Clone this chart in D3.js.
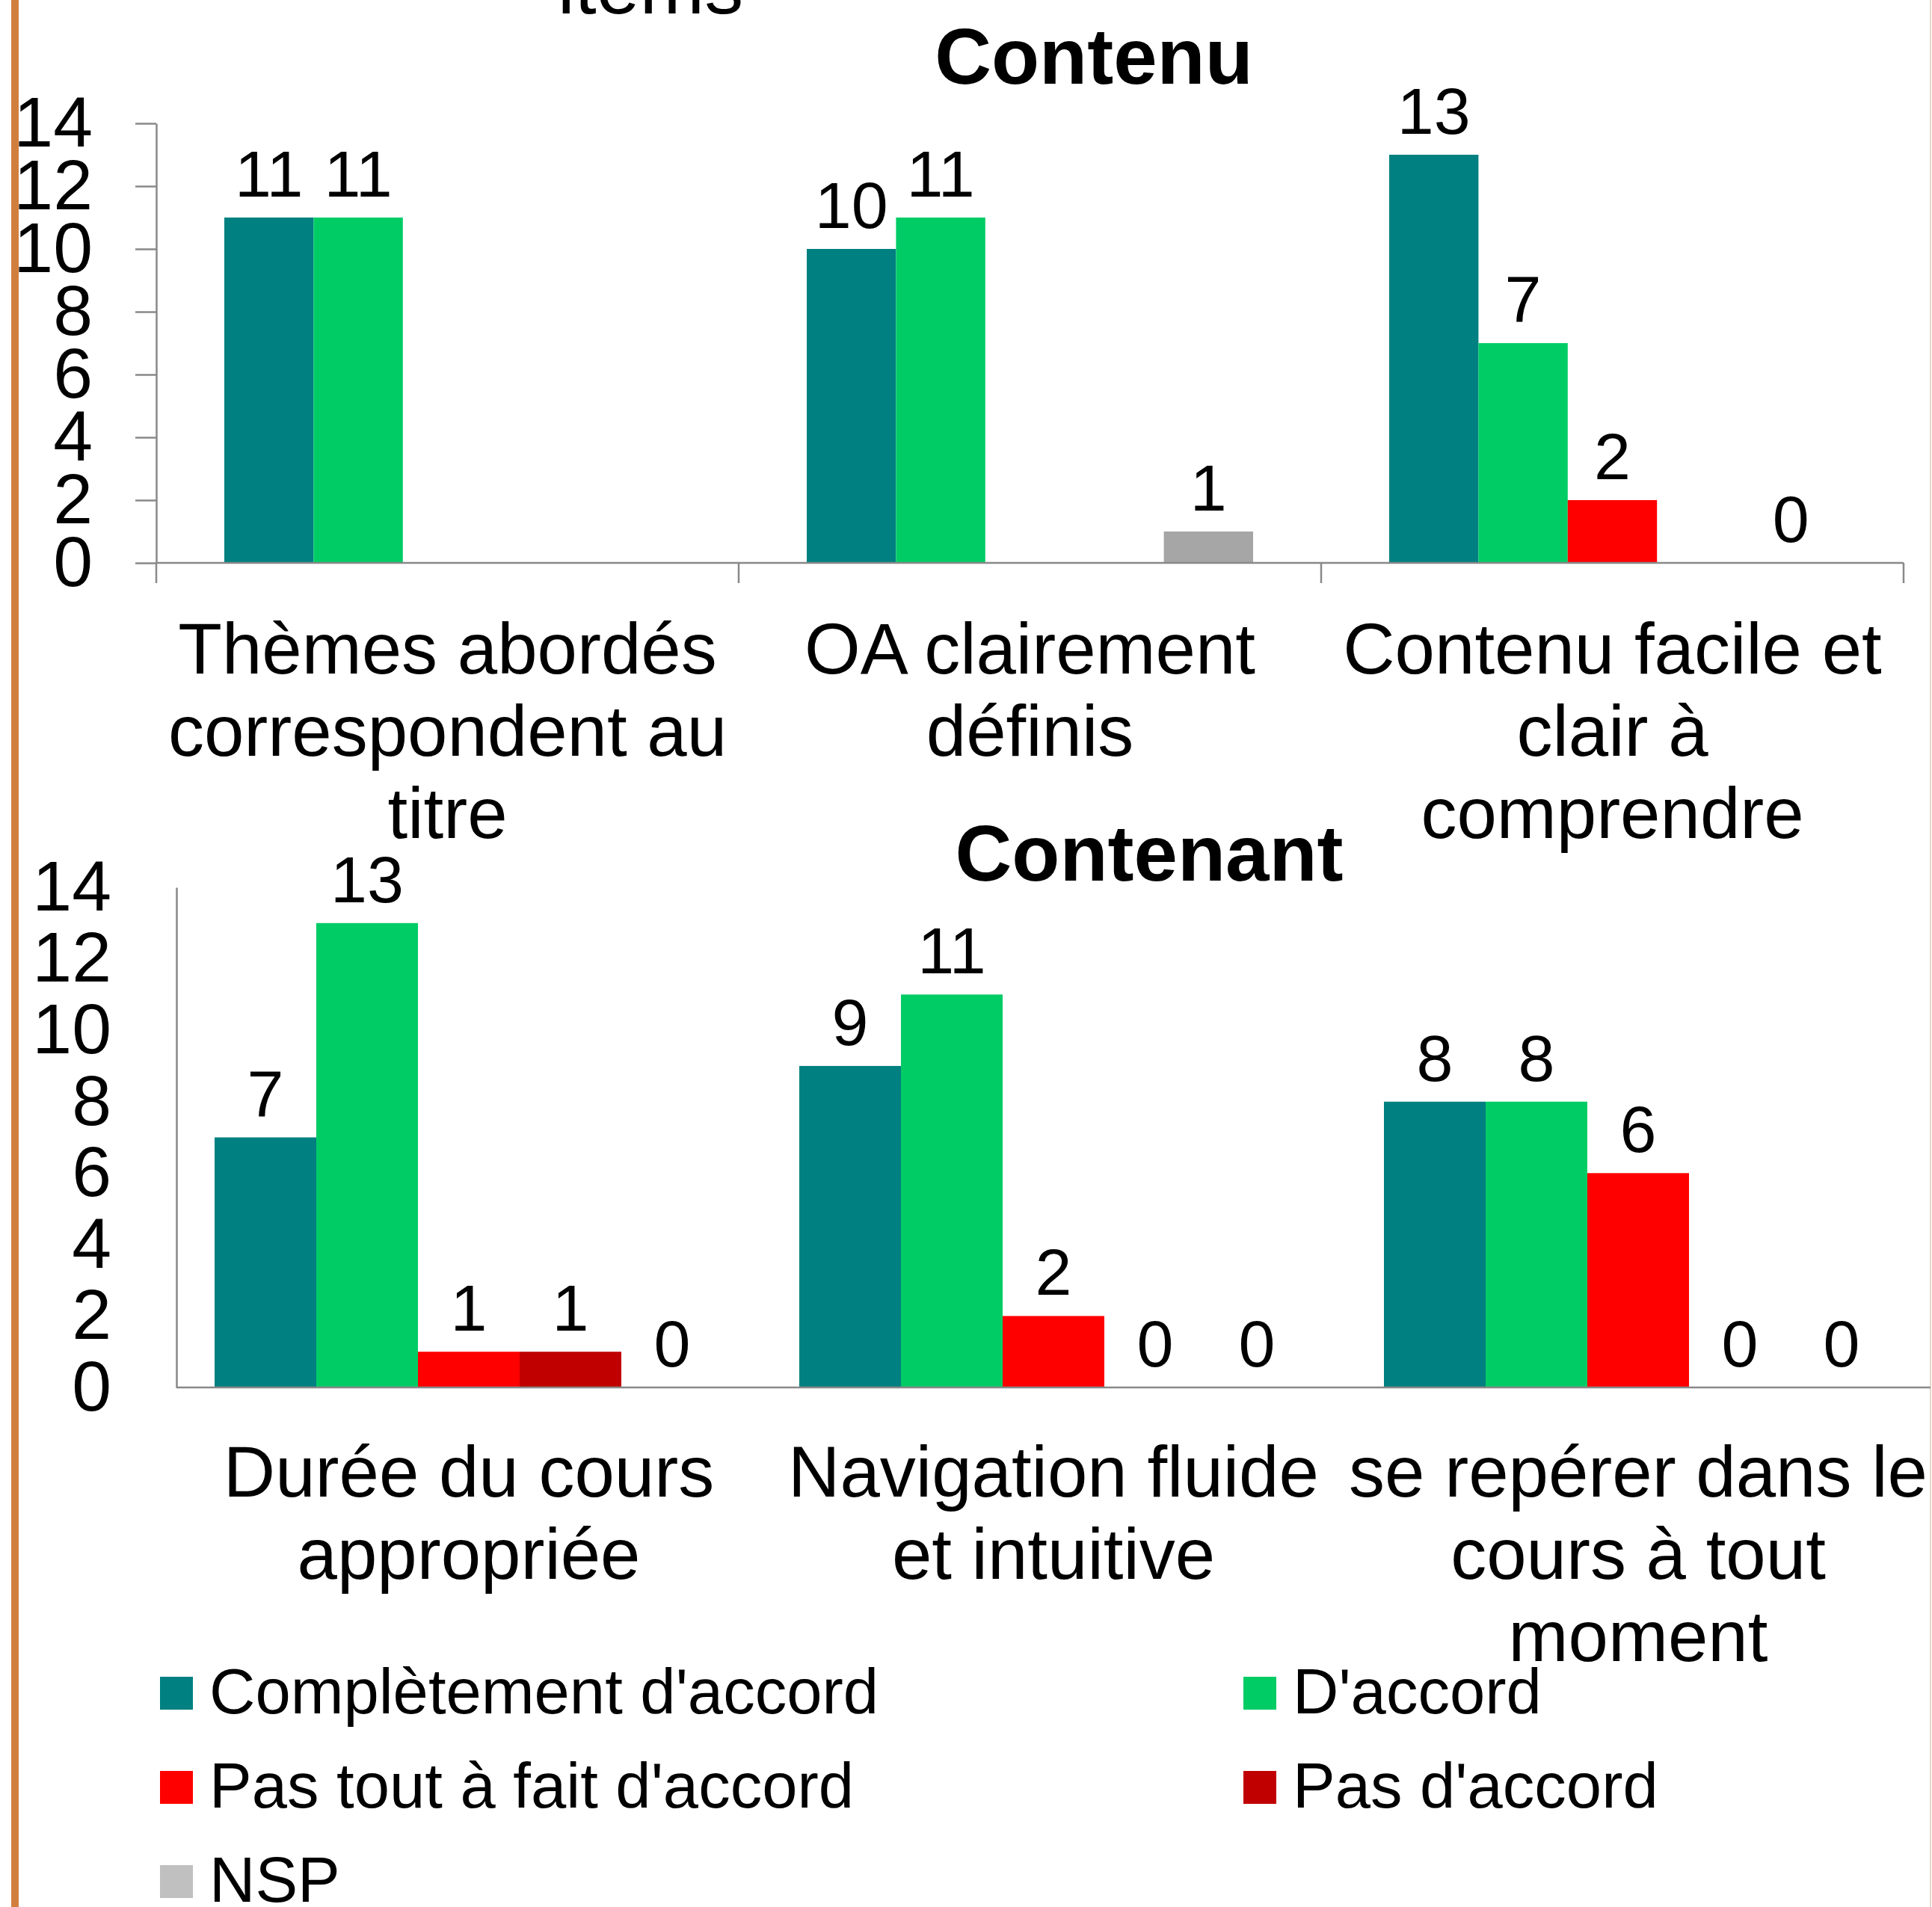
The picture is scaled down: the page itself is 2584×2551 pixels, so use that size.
<!DOCTYPE html>
<html>
<head>
<meta charset="utf-8">
<script src="https://cdn.jsdelivr.net/npm/d3@7"></script>
<style>
  html, body { margin: 0; padding: 0; background: #ffffff; }
  svg { display: block; }
  text { font-family: "Liberation Sans", Arial, sans-serif; fill: #000; }
</style>
</head>
<body>
<svg id="chart" width="2584" height="2551"></svg>
<script>
// ---- DATA ----
const series = ["Complètement d'accord", "D'accord", "Pas tout à fait d'accord", "Pas d'accord", "NSP"];
const barColors = ["#008080", "#00cc66", "#ff0000", "#c00000", "#a6a6a6"];
const legendColors = ["#008080", "#00cc66", "#ff0000", "#c00000", "#c0c0c0"];

const contenuCategories = ["Thèmes abordés correspondent au titre", "OA clairement définis", "Contenu facile et clair à comprendre"];
const contenuLines = [["Thèmes abordés", "correspondent au", "titre"], ["OA clairement", "définis"], ["Contenu facile et", "clair à", "comprendre"]];
const contenuValues = [
  [11, 11, null, null, null],
  [10, 11, null, null, 1],
  [13, 7, 2, null, 0]
];

const contenantCategories = ["Durée du cours appropriée", "Navigation fluide et intuitive", "se repérer dans le cours à tout moment"];
const contenantLines = [["Durée du cours", "appropriée"], ["Navigation fluide", "et intuitive"], ["se repérer dans le", "cours à tout", "moment"]];
const contenantValues = [
  [7, 13, 1, 1, 0],
  [9, 11, 2, 0, 0],
  [8, 8, 6, 0, 0]
];

const yTicks = [0, 2, 4, 6, 8, 10, 12, 14];

// ---- DRAW ----
const svg = d3.select("#chart");
const AXIS = "#898989";

// page decorations
svg.append("rect").attr("x", 15).attr("y", 0).attr("width", 10).attr("height", 2551).attr("fill", "#d17f3f");
svg.append("line").attr("x1", 2582).attr("x2", 2582).attr("y1", 0).attr("y2", 2551)
  .attr("stroke", "#e4d8cc").attr("stroke-width", 2);

// cut-off heading
svg.append("text").attr("x", 870).attr("y", 18).attr("text-anchor", "middle")
  .attr("font-size", 104).text("items");

function drawChart(cfg) {
  const g = svg.append("g");
  const x = d3.scaleBand().domain(cfg.categories).range([cfg.x0, cfg.x1]);
  const xs = d3.scaleBand().domain(series).range([cfg.inner, x.bandwidth() - cfg.inner]);
  const y = d3.scaleLinear().domain([0, 14]).range([cfg.yBottom, cfg.yTop]);

  // title
  g.append("text").attr("x", cfg.titleX).attr("y", cfg.titleY).attr("text-anchor", "middle")
    .attr("font-size", 105).attr("font-weight", "bold").text(cfg.title);

  // bars
  cfg.categories.forEach((cat, i) => {
    const grp = g.append("g").attr("transform", `translate(${x(cat)},0)`);
    series.forEach((s, j) => {
      const v = cfg.values[i][j];
      if (v === null) return;
      if (v > 0) {
        grp.append("rect")
          .attr("x", xs(s)).attr("width", xs.bandwidth())
          .attr("y", y(v)).attr("height", y(0) - y(v))
          .attr("fill", barColors[j]);
      }
      grp.append("text")
        .attr("x", xs(s) + xs.bandwidth() / 2)
        .attr("y", y(v) - 28)
        .attr("text-anchor", "middle")
        .attr("font-size", 88)
        .text(v);
    });
  });

  // y axis
  const yAxis = d3.axisLeft(y).tickValues(yTicks).tickSize(cfg.yTickSize)
    .tickPadding(cfg.yTickPadding).tickSizeOuter(0);
  const ya = g.append("g").attr("transform", `translate(${cfg.x0},0)`).call(yAxis);
  ya.select(".domain").attr("stroke", AXIS).attr("stroke-width", 2.5);
  ya.selectAll(".tick line").attr("stroke", AXIS).attr("stroke-width", 2.5);
  ya.selectAll(".tick text").attr("font-size", 95).attr("fill", "#000")
    .attr("font-family", '"Liberation Sans", Arial, sans-serif');

  // x axis line
  g.append("line").attr("x1", cfg.x0).attr("x2", cfg.x1).attr("y1", y(0)).attr("y2", y(0))
    .attr("stroke", AXIS).attr("stroke-width", 2.5);
  if (cfg.xTicks) {
    const bounds = cfg.categories.map(c => x(c)).concat([cfg.x1]);
    g.selectAll(".xb").data(bounds).enter().append("line")
      .attr("x1", d => d).attr("x2", d => d)
      .attr("y1", y(0)).attr("y2", y(0) + 27)
      .attr("stroke", AXIS).attr("stroke-width", 2.5);
  }

  // category labels
  cfg.categories.forEach((cat, i) => {
    const t = g.append("text").attr("text-anchor", "middle").attr("font-size", 96);
    cfg.lines[i].forEach((ln, k) => {
      t.append("tspan").attr("x", x(cat) + x.bandwidth() / 2)
        .attr("y", y(0) + cfg.labelOffset + k * 110).text(ln);
    });
  });
}

drawChart({
  title: "Contenu", titleX: 1463, titleY: 112,
  categories: contenuCategories, lines: contenuLines, values: contenuValues,
  x0: 209, x1: 2546, inner: 91, yTop: 165, yBottom: 753,
  yTickSize: 28, yTickPadding: 57, xTicks: true, labelOffset: 148
});

drawChart({
  title: "Contenant", titleX: 1537, titleY: 1178,
  categories: contenantCategories, lines: contenantLines, values: contenantValues,
  x0: 236, x1: 2582, inner: 51, yTop: 1187, yBottom: 1856,
  yTickSize: 0, yTickPadding: 87, xTicks: false, labelOffset: 146
});

// legend
const legendPos = [
  { x: 214, y: 2243 }, { x: 1663, y: 2243 },
  { x: 214, y: 2369 }, { x: 1663, y: 2369 },
  { x: 214, y: 2495 }
];
const lg = svg.append("g");
series.forEach((s, i) => {
  const p = legendPos[i];
  lg.append("rect").attr("x", p.x).attr("y", p.y).attr("width", 44).attr("height", 44)
    .attr("fill", legendColors[i]);
  lg.append("text").attr("x", p.x + 66).attr("y", p.y + 49).attr("font-size", 85).text(s);
});
</script>
</body>
</html>
